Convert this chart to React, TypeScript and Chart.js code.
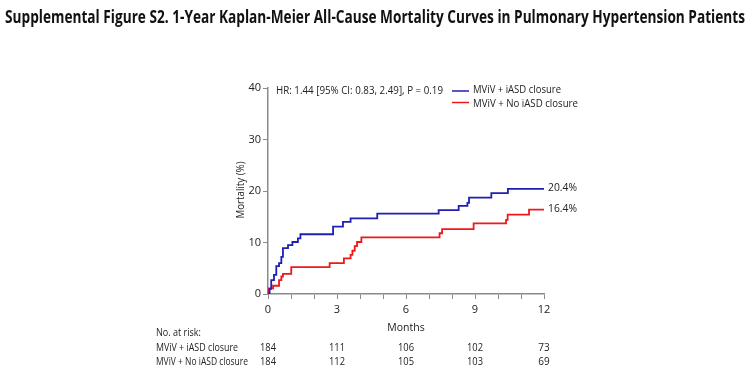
import React, { useEffect, useRef } from "react";
import { Chart, registerables } from "chart.js";

Chart.register(...registerables);

// ---- data ----
const blueTimes = [0, 0.07, 0.14, 0.26, 0.36, 0.48, 0.58, 0.65, 0.87, 1.06, 1.3, 1.41, 2.83, 3.26, 3.59, 4.75, 7.42, 8.29, 8.67, 8.74, 9.71, 10.43, 12];
const blueValues = [0, 1.0, 2.7, 3.7, 5.4, 6.0, 7.2, 8.9, 9.5, 10.1, 10.8, 11.6, 13.1, 14.0, 14.7, 15.6, 16.3, 17.1, 17.7, 18.7, 19.6, 20.4, 20.4];
const redTimes = [0, 0.03, 0.22, 0.48, 0.58, 0.65, 1.01, 2.68, 3.3, 3.59, 3.67, 3.77, 3.87, 4.06, 7.46, 7.57, 8.94, 10.35, 10.42, 11.35, 12];
const redValues = [0, 1.1, 1.6, 2.7, 3.4, 3.9, 5.2, 6.0, 6.9, 7.6, 8.4, 9.3, 10.1, 11.0, 11.8, 12.6, 13.7, 14.4, 15.4, 16.4, 16.4];
const seriesNames = ["MViV + iASD closure", "MViV + No iASD closure"];
const riskMonths = [0, 3, 6, 9, 12];
const riskBlue = [184, 111, 106, 102, 73];
const riskRed = [184, 112, 105, 103, 69];
const endLabels = ["20.4%", "16.4%"];
const titleText = "Supplemental Figure S2. 1-Year Kaplan-Meier All-Cause Mortality Curves in Pulmonary Hypertension Patients";
const hrText = "HR: 1.44 [95% CI: 0.83, 2.49], P = 0.19";

const BLUE = "#1f1fb4";
const RED = "#f01818";
const FONT = "'Open Sans', 'Liberation Sans', sans-serif";

export default function App() {
  const ref = useRef<HTMLCanvasElement | null>(null);
  useEffect(() => {
    const canvas = ref.current;
    if (!canvas) return;
    const textPlugin = {
      id: "texts",
      afterDraw(chart: any) {
        const ctx = chart.ctx as CanvasRenderingContext2D;
        const xs = chart.scales.x;
        const ys = chart.scales.y;
        ctx.save();
        // title
        ctx.fillStyle = "#111";
        ctx.textBaseline = "alphabetic";
        ctx.textAlign = "left";
        ctx.font = `bold 17px ${FONT}`;
        ctx.fillText(titleText, 5, 23, 740);
        // HR text
        ctx.fillStyle = "#222";
        ctx.textBaseline = "middle";
        ctx.font = `10.5px ${FONT}`;
        ctx.fillText(hrText, 276, 91, 167);
        // legend
        ctx.lineWidth = 1.5;
        ctx.strokeStyle = BLUE;
        ctx.beginPath();
        ctx.moveTo(452, 91);
        ctx.lineTo(469, 91);
        ctx.stroke();
        ctx.strokeStyle = RED;
        ctx.beginPath();
        ctx.moveTo(452, 102.5);
        ctx.lineTo(469, 102.5);
        ctx.stroke();
        ctx.fillText(seriesNames[0], 473, 90, 88);
        ctx.fillText(seriesNames[1], 473, 104, 105);
        // end labels
        ctx.fillText(endLabels[0], 548, ys.getPixelForValue(20.4) - 0.5, 29);
        ctx.fillText(endLabels[1], 548, ys.getPixelForValue(16.4) - 0.5, 29);
        // y title
        ctx.save();
        ctx.translate(241, 190);
        ctx.rotate(-Math.PI / 2);
        ctx.textAlign = "center";
        ctx.font = `10.5px ${FONT}`;
        ctx.fillText("Mortality (%)", 0, 0, 57);
        ctx.restore();
        // months
        ctx.textAlign = "center";
        ctx.font = `10.5px ${FONT}`;
        ctx.fillText("Months", (xs.left + xs.right) / 2, 328, 40);
        // risk table
        ctx.textAlign = "left";
        ctx.font = `10px ${FONT}`;
        ctx.fillText("No. at risk:", 156, 333, 45);
        ctx.fillText(seriesNames[0], 156, 348, 82);
        ctx.fillText(seriesNames[1], 156, 362, 92);
        ctx.textAlign = "center";
        ctx.font = `10px ${FONT}`;
        riskMonths.forEach((m, i) => {
          const px = xs.getPixelForValue(m);
          ctx.fillText(String(riskBlue[i]), px, 348, 16);
          ctx.fillText(String(riskRed[i]), px, 362, 16);
        });
        ctx.restore();
      },
    };
    const chart = new Chart(canvas, {
      type: "line",
      data: {
        datasets: [
          {
            label: seriesNames[0],
            data: blueTimes.map((t, i) => ({ x: t, y: blueValues[i] })),
            borderColor: BLUE,
            borderWidth: 1.8,
            pointRadius: 0,
            stepped: true,
            fill: false,
          },
          {
            label: seriesNames[1],
            data: redTimes.map((t, i) => ({ x: t, y: redValues[i] })),
            borderColor: RED,
            borderWidth: 1.8,
            pointRadius: 0,
            stepped: true,
            fill: false,
          },
        ],
      },
      options: {
        animation: false,
        responsive: false,
        maintainAspectRatio: false,
        layout: { padding: { left: 0, right: 203, top: 88, bottom: 56 } },
        plugins: { legend: { display: false }, tooltip: { enabled: false }, title: { display: false } },
        scales: {
          x: {
            type: "linear",
            min: 0,
            max: 12,
            border: { color: "#8a8a8a", width: 1.5 },
            grid: { drawOnChartArea: false, drawTicks: true, tickLength: 5, color: "#8a8a8a", lineWidth: 1 },
            ticks: {
              stepSize: 1,
              autoSkip: false,
              maxRotation: 0,
              padding: 4,
              color: "#222",
              font: { family: FONT, size: 11 },
              callback: (v: any) => (Number(v) % 3 === 0 ? String(v) : ""),
            },
            afterFit: (s: any) => {
              s.height = 20;
            },
          },
          y: {
            min: 0,
            max: 40,
            border: { color: "#8a8a8a", width: 1.5 },
            grid: { drawOnChartArea: false, drawTicks: true, tickLength: 5, color: "#8a8a8a", lineWidth: 1 },
            ticks: {
              stepSize: 10,
              padding: 2,
              color: "#222",
              font: { family: FONT, size: 11 },
            },
            afterFit: (s: any) => {
              s.width = 268;
            },
          },
        },
      },
      plugins: [textPlugin],
    });
    return () => chart.destroy();
  }, []);
  return (
    <div style={{ position: "fixed", left: 0, top: 0, width: 747, height: 370, background: "#fff" }}>
      <canvas ref={ref} width={747} height={370} style={{ width: 747, height: 370, display: "block" }} />
    </div>
  );
}
